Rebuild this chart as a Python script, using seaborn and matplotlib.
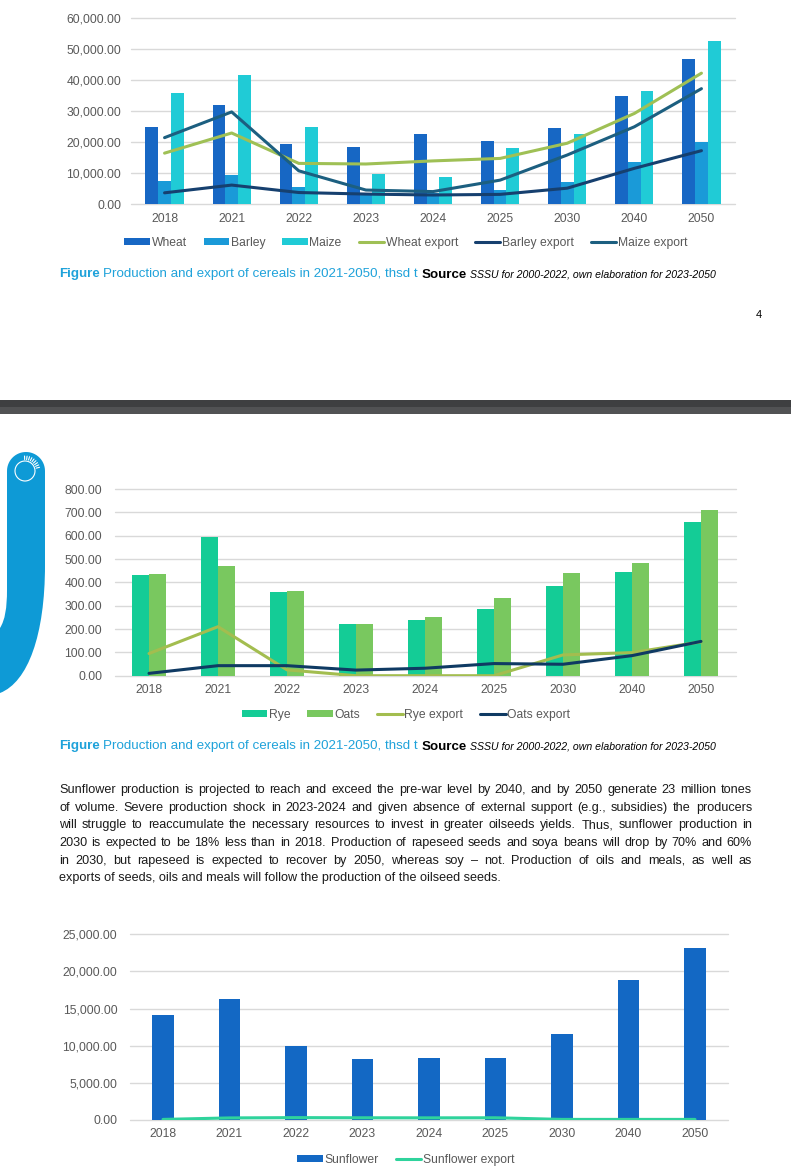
import numpy as np
import pandas as pd
import seaborn as sns
import matplotlib.pyplot as plt
from matplotlib import font_manager
from matplotlib.patches import Patch, Rectangle, PathPatch, Circle
from matplotlib.lines import Line2D
from matplotlib.path import Path
from matplotlib.ticker import FuncFormatter

years = ["2018", "2021", "2022", "2023", "2024", "2025", "2030", "2040", "2050"]

# cereals, thsd t
wheat = [25000, 32000, 19400, 18600, 22700, 20400, 24500, 34900, 47000]
barley = [7500, 9400, 5600, 3000, 3500, 4600, 7300, 13700, 20100]
maize = [35800, 41800, 25000, 9900, 8900, 18100, 22700, 36500, 52700]
wheat_export = [16500, 23000, 13200, 13000, 14000, 14800, 19700, 29300, 42300]
barley_export = [3700, 6200, 3800, 3300, 3000, 3200, 5200, 11600, 17300]
maize_export = [21500, 29800, 10800, 4600, 4100, 7800, 15900, 25000, 37300]

# rye and oats, thsd t
rye = [430, 593, 359, 221, 240, 286, 386, 443, 660]
oats = [437, 469, 362, 220, 250, 332, 440, 484, 711]
rye_export = [95, 210, 25, 0, 0, 0, 89, 99, 145]
oats_export = [10, 43, 43, 24, 32, 52, 49, 86, 147]

# sunflower, thsd t
sunflower = [14100, 16300, 10000, 8200, 8300, 8400, 11600, 18900, 23100]
sunflower_export = [80, 280, 320, 300, 290, 300, 80, 80, 80]

para_lines = [
    "Sunflower production is projected to reach and exceed the pre-war level by 2040, and by 2050 generate 23 million tones",
    "of volume. Severe production shock in 2023-2024 and given absence of external support (e.g., subsidies) the producers",
    "will struggle to reaccumulate the necessary resources to invest in greater oilseeds yields. Thus, sunflower production in",
    "2030 is expected to be 18% less than in 2018. Production of rapeseed seeds and soya beans will drop by 70% and 60%",
    "in 2030, but rapeseed is expected to recover by 2050, whereas soy \u2013 not. Production of oils and meals, as well as",
    "exports of seeds, oils and meals will follow the production of the oilseed seeds.",
]

sns.set_theme(style="white")
plt.rcParams["font.family"] = ["Liberation Sans", "DejaVu Sans"]

W, H = 791, 1173
fig = plt.figure(figsize=(W / 100, H / 100), dpi=100)
renderer = fig.canvas.get_renderer()
BLUE = "#1fa2da"
GREY = "#595959"


def rect(l, t, r, b):
    return [l / W, 1 - b / H, (r - l) / W, (b - t) / H]


# page decorations, in pixel coords (y down)
deco = fig.add_axes([0, 0, 1, 1])
deco.set_xlim(0, W)
deco.set_ylim(H, 0)
deco.axis("off")

deco.add_patch(Rectangle((0, 400), W, 7, color="#3e3f41", lw=0))
deco.add_patch(Rectangle((0, 407), W, 7, color="#515254", lw=0))
deco.text(756, 315, "4", fontsize=8, color="black", va="center")

th = np.linspace(np.pi, 0, 30)
verts = list(zip(26 + 19 * np.cos(th), 471 - 19 * np.sin(th)))
codes = [Path.MOVETO] + [Path.LINETO] * (len(verts) - 1)
verts += [(45, 565), (45, 635), (28, 682), (0, 693), (0, 628), (5, 620), (7, 608), (7, 590), (7, 471), (7, 471)]
codes += [Path.LINETO, Path.CURVE4, Path.CURVE4, Path.CURVE4, Path.LINETO,
          Path.CURVE4, Path.CURVE4, Path.CURVE4, Path.LINETO, Path.CLOSEPOLY]
deco.add_patch(PathPatch(Path(verts, codes), fc="#0e9ad6", ec="none"))
deco.add_patch(Circle((25, 471), 10, fill=False, ec="white", lw=0.8))
for a in np.linspace(0.25, 1.6, 9):
    deco.plot([25 + 11.5 * np.cos(a), 25 + 15 * np.cos(a)],
              [471 - 11.5 * np.sin(a), 471 - 15 * np.sin(a)], color="white", lw=0.8)


def style(ax, ymax, step, pad):
    ax.set_xlim(-0.5, len(years) - 0.5)
    ax.set_ylim(0, ymax)
    ax.set_yticks(np.arange(0, ymax + 1, step))
    ax.yaxis.set_major_formatter(FuncFormatter(lambda v, p: f"{v:,.2f}"))
    ax.grid(axis="y", color="#d9d9d9", lw=1)
    ax.grid(axis="x", visible=False)
    ax.set_axisbelow(True)
    for gl in ax.get_ygridlines():
        gl.set_clip_on(False)
    for s in ax.spines.values():
        s.set_visible(False)
    ax.tick_params(length=0, labelsize=8.7, labelcolor=GREY)
    ax.tick_params(axis="y", pad=pad)
    ax.tick_params(axis="x", pad=6)
    ax.set_xlabel("")
    ax.set_ylabel("")


def legend(items, y, x=406):
    handles = []
    for name, c, kind in items:
        if kind == "bar":
            handles.append(Patch(facecolor=c, edgecolor="none"))
        else:
            handles.append(Line2D([], [], color=c, lw=2.2))
    fig.legend(handles, [i[0] for i in items], loc="center",
               bbox_to_anchor=(x / W, 1 - y / H), ncol=len(items), frameon=False,
               fontsize=8.7, labelcolor=GREY, handlelength=2.1, handleheight=0.45,
               handletextpad=0.15, columnspacing=1.4)


def caption(y):
    x = 59
    parts = [("Figure", dict(color=BLUE, weight="bold", size=9.6)),
             ("Production and export of cereals in 2021-2050, thsd t", dict(color=BLUE, size=9.6)),
             ("Source", dict(color="black", weight="bold", size=9.6)),
             ("SSSU for 2000-2022, own elaboration for 2023-2050", dict(color="black", style="italic", size=7.6))]
    for s, kw in parts:
        t = deco.text(x, y + 3.5, s, va="baseline", ha="left", **kw)
        x += t.get_window_extent(renderer).width + 3.5


# chart 1: cereals
ax1 = fig.add_axes(rect(131, 18.3, 735, 204.3))
prod1 = pd.DataFrame({"year": years * 3,
                      "crop": ["Wheat"] * 9 + ["Barley"] * 9 + ["Maize"] * 9,
                      "value": wheat + barley + maize})
sns.barplot(data=prod1, x="year", y="value", hue="crop",
            palette=["#1767c4", "#1a9ad8", "#20cbd6"], width=0.57, gap=0,
            saturation=1, linewidth=0, errorbar=None, legend=False, ax=ax1)
for vals, c in [(wheat_export, "#9fc055"), (barley_export, "#16406f"), (maize_export, "#1c5f80")]:
    sns.pointplot(x=years, y=vals, color=c, marker="", linewidth=2.2, errorbar=None, ax=ax1)
style(ax1, 60000, 10000, 7)
legend([("Wheat", "#1767c4", "bar"), ("Barley", "#1a9ad8", "bar"), ("Maize", "#20cbd6", "bar"),
        ("Wheat export", "#9fc055", "line"), ("Barley export", "#16406f", "line"),
        ("Maize export", "#1c5f80", "line")], 243)
caption(274)

# chart 2: rye and oats
ax2 = fig.add_axes(rect(114.5, 489, 735.5, 675.7))
prod2 = pd.DataFrame({"year": years * 2,
                      "crop": ["Rye"] * 9 + ["Oats"] * 9,
                      "value": rye + oats})
sns.barplot(data=prod2, x="year", y="value", hue="crop",
            palette=["#14cc96", "#79c85f"], width=0.48, gap=0,
            saturation=1, linewidth=0, errorbar=None, legend=False, ax=ax2)
for vals, c in [(rye_export, "#a3bd4f"), (oats_export, "#0f3a63")]:
    sns.pointplot(x=years, y=vals, color=c, marker="", linewidth=2.2, errorbar=None, ax=ax2)
style(ax2, 800, 100, 9)
legend([("Rye", "#14cc96", "bar"), ("Oats", "#79c85f", "bar"),
        ("Rye export", "#a3bd4f", "line"), ("Oats export", "#0f3a63", "line")], 715)
caption(746)

# paragraph, justified
names = {f.name for f in font_manager.fontManager.ttflist}
pfam = "Liberation Sans Narrow" if "Liberation Sans Narrow" in names else "Liberation Sans"
probe = deco.text(0, 0, para_lines[0], fontsize=10, family=pfam)
pw = probe.get_window_extent(renderer).width
probe.remove()
psize = min(10.4, 10 * 676 / pw)
x0, x1 = 59, 752
for i, line in enumerate(para_lines):
    y = 789 + 17.7 * i + 4
    if i == len(para_lines) - 1:
        deco.text(x0, y, line, fontsize=psize, family=pfam, color="#1a1a1a", va="baseline")
        continue
    words = line.split(" ")
    texts = [deco.text(x0, y, w, fontsize=psize, family=pfam, color="#1a1a1a", va="baseline")
             for w in words]
    widths = [t.get_window_extent(renderer).width for t in texts]
    gap = (x1 - x0 - sum(widths)) / (len(words) - 1)
    x = x0
    for t, wd in zip(texts, widths):
        t.set_x(x)
        x += wd + gap

# chart 3: sunflower
ax3 = fig.add_axes(rect(129.75, 934.3, 728.25, 1120))
sns.barplot(x=years, y=sunflower, color="#1368c4", width=0.32, saturation=1,
            linewidth=0, errorbar=None, ax=ax3)
sns.pointplot(x=years, y=sunflower_export, color="#2fd39c", marker="", linewidth=2.2,
              errorbar=None, ax=ax3)
style(ax3, 25000, 5000, 9)
legend([("Sunflower", "#1368c4", "bar"), ("Sunflower export", "#2fd39c", "line")], 1160)

fig.savefig("out.png", dpi=100)
